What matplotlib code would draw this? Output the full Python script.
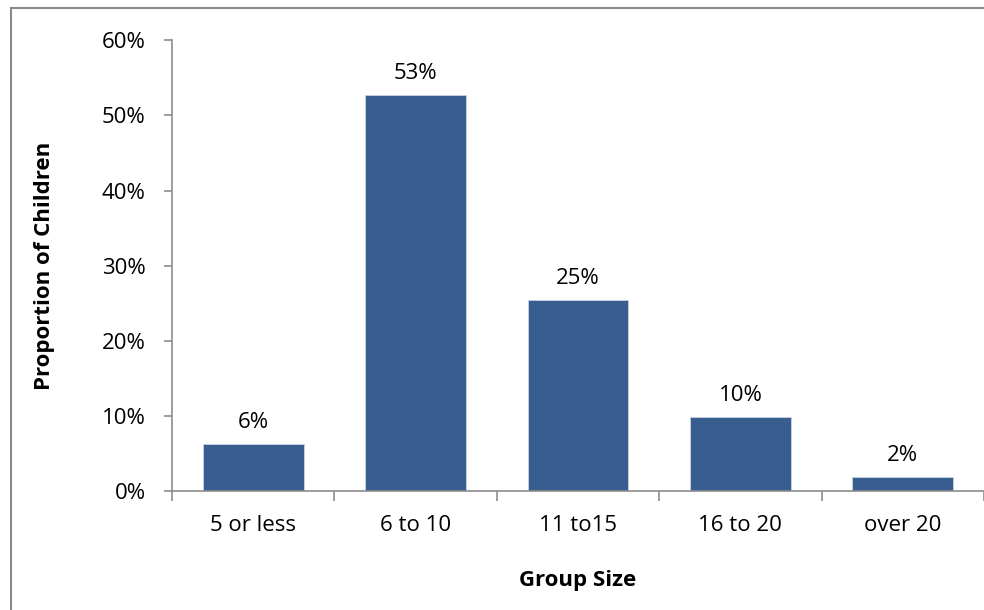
import matplotlib.pyplot as plt
from matplotlib.patches import Rectangle
from matplotlib.ticker import PercentFormatter

groups = ["5 or less", "6 to 10", "11 to15", "16 to 20", "over 20"]
share = [6.3, 52.7, 25.4, 9.8, 1.9]

BAR_COLOR = "#375e8f"
AXIS_COLOR = "#8c8c8c"
FS = 16

plt.rcParams["font.family"] = ["Open Sans", "DejaVu Sans"]

fig = plt.figure(figsize=(9.84, 6.10), dpi=100)
ax = fig.add_axes([0.1748, 0.195, 0.8252, 0.739])

x = range(len(groups))
bars = ax.bar(x, share, width=0.62, color=BAR_COLOR, edgecolor="#c9d3e3", linewidth=0.6)

for b, v in zip(bars, share):
    ax.annotate(f"{v:.0f}%", (b.get_x() + b.get_width() / 2, v),
                xytext=(0, 8), textcoords="offset points",
                ha="center", va="bottom", fontsize=FS)

ax.set_xlim(-0.5, len(groups) - 0.5)
ax.set_ylim(0, 60)
ax.set_yticks(range(0, 61, 10))
ax.yaxis.set_major_formatter(PercentFormatter(decimals=0))

# category boundaries get the tick marks, names sit between them
ax.set_xticks([i - 0.5 for i in range(len(groups) + 1)])
ax.set_xticklabels([])
ax.set_xticks(list(x), minor=True)
ax.set_xticklabels(groups, minor=True, fontsize=FS)
ax.tick_params(axis="x", which="major", length=7, color=AXIS_COLOR, width=1.2)
ax.tick_params(axis="x", which="minor", length=0, pad=17)
ax.tick_params(axis="y", length=6, color=AXIS_COLOR, width=1.2, labelsize=FS, pad=13)

for side in ("top", "right"):
    ax.spines[side].set_visible(False)
for side in ("left", "bottom"):
    ax.spines[side].set_color(AXIS_COLOR)
    ax.spines[side].set_linewidth(1.2)

ax.set_xlabel("Group Size", fontsize=FS, fontweight="bold", labelpad=25)
ax.set_ylabel("Proportion of Children", fontsize=FS, fontweight="bold", labelpad=34)

# chart area frame
fig.patches.append(Rectangle((11 / 984, -0.1), 1.2, 0.1 + 1 - 8 / 610,
                             transform=fig.transFigure, fill=False,
                             edgecolor="#8a8a8a", linewidth=1.5))

fig.savefig("out.png", dpi=100)
